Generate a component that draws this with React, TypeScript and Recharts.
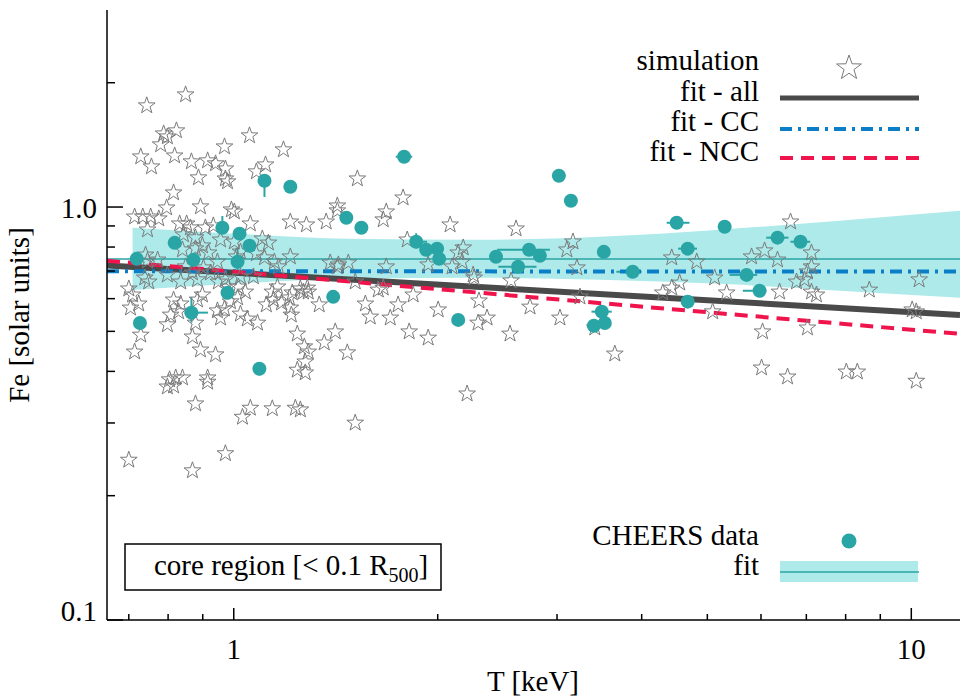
import React from 'react';
import { ComposedChart, XAxis, YAxis, Scatter, Line, Area, ErrorBar } from 'recharts';

const FONT = '"Liberation Serif", "Times New Roman", "DejaVu Serif", serif';
const TEAL = '#2aa5a5';
const BAND_FILL = '#aeeaea';
const STAR_STROKE = '#7a7a7a';

const X_TICKS = [0.7, 0.8, 0.9, 1, 2, 3, 4, 5, 6, 7, 8, 9, 10];
const X_LABELS: Record<number, string> = { 1: '1', 10: '10' };
const Y_TICKS = [0.1, 0.2, 0.3, 0.4, 0.5, 0.6, 0.7, 0.8, 0.9, 1, 2];
const Y_LABELS: Record<number, string> = { 0.1: '0.1', 1: '1.0' };

// simulated clusters (stars)
const SIM_T = [
  0.849, 0.744, 0.823, 0.788, 0.798, 0.780, 1.055, 0.969, 1.184, 0.729,
  0.818, 0.756, 0.866, 0.915, 0.940, 0.972, 0.887, 0.972, 0.979, 1.080,
  1.114, 0.815, 0.893, 0.796, 0.992, 1.002, 1.058, 1.212, 1.280, 1.369,
  1.422, 0.714, 0.734, 0.754, 0.775, 0.746, 0.832, 0.852, 0.933, 0.908,
  0.863, 0.843, 0.878, 0.956, 1.002, 1.102, 1.125, 0.840, 0.878, 0.899,
  0.918, 1.023, 1.009, 0.741, 0.746, 0.772, 1.080, 1.110, 0.946, 1.148,
  1.212, 1.164, 1.388, 1.427, 0.849, 0.869, 0.902, 0.924, 1.023, 1.069,
  0.884, 0.739, 0.749, 0.798, 0.835, 0.949, 0.972, 0.982, 1.016, 1.040,
  1.160, 1.140, 0.700, 0.709, 0.724, 0.704, 0.729, 0.714, 0.815, 0.835,
  0.829, 0.807, 0.798, 0.884, 0.899, 0.878, 0.869, 0.893, 0.940, 0.946,
  0.969, 0.989, 1.013, 0.956, 1.023, 1.047, 1.084, 1.117, 1.144, 1.176,
  1.208, 1.212, 1.216, 1.220, 1.254, 1.288, 1.337, 1.241, 1.271, 1.288,
  1.275, 1.241, 1.275, 1.360, 1.412, 1.471, 0.804, 0.821, 0.840, 0.798,
  0.815, 0.915, 0.915, 0.878, 1.030, 1.058, 1.140, 1.233, 0.700, 0.869,
  0.972, 1.511, 2.210, 1.254, 1.284, 1.267, 1.511, 1.564, 1.590, 1.634,
  1.662, 1.702, 1.748, 1.840, 2.003, 1.815, 1.936, 2.263, 2.301, 2.294,
  2.365, 2.557, 2.566, 2.737, 1.522, 1.778, 1.422, 1.679, 1.662, 2.086,
  2.610, 1.803, 2.181, 2.144, 2.173, 1.422, 1.476, 1.679, 1.936, 2.100,
  2.256, 3.167, 3.102, 3.210, 4.430, 4.823, 5.126, 4.551, 4.430, 5.339,
  5.811, 6.074, 6.347, 6.634, 7.123, 7.123, 7.027, 6.770, 6.956, 6.391,
  7.123, 7.245, 8.670, 10.27, 3.243, 3.030, 3.411, 3.651, 4.297, 5.091,
  6.032, 7.027, 10.03, 10.17, 6.012, 6.567, 8.019, 8.324, 10.17,
];
const SIM_FE = [
  1.871, 1.760, 1.531, 1.505, 1.480, 1.416, 1.489, 1.400, 1.377, 1.324,
  1.331, 1.252, 1.288, 1.295, 1.274, 1.238, 1.178, 1.171, 1.152, 1.218,
  1.266, 1.083, 1.002, 0.996, 0.985, 0.974, 0.911, 0.921, 0.906, 0.921,
  1.007, 0.947, 0.947, 0.947, 0.937, 0.881, 0.911, 0.911, 0.901, 0.891,
  0.891, 0.857, 0.843, 0.833, 0.824, 0.838, 0.819, 0.788, 0.793, 0.806,
  0.775, 0.779, 0.758, 0.766, 0.741, 0.745, 0.771, 0.754, 0.737, 0.737,
  0.758, 0.717, 0.733, 0.725, 0.717, 0.693, 0.713, 0.693, 0.678, 0.678,
  0.667, 0.674, 0.659, 0.685, 0.659, 0.659, 0.667, 0.641, 0.641, 0.623,
  0.641, 0.623, 0.634, 0.613, 0.583, 0.570, 0.490, 0.446, 0.596, 0.583,
  0.558, 0.548, 0.519, 0.596, 0.613, 0.524, 0.485, 0.451, 0.439, 0.561,
  0.567, 0.590, 0.603, 0.539, 0.551, 0.536, 0.524, 0.580, 0.596, 0.586,
  0.603, 0.570, 0.548, 0.620, 0.634, 0.623, 0.580, 0.493, 0.459, 0.446,
  0.422, 0.403, 0.397, 0.469, 0.499, 0.444, 0.382, 0.386, 0.386, 0.367,
  0.369, 0.386, 0.377, 0.334, 0.310, 0.326, 0.325, 0.326, 0.244, 0.230,
  0.253, 0.300, 0.353, 0.323, 0.637, 0.623, 0.659, 0.583, 0.542, 0.630,
  0.637, 0.539, 0.580, 0.613, 0.564, 0.499, 0.482, 0.674, 0.593, 0.524,
  0.539, 0.493, 0.663, 0.573, 1.171, 1.053, 0.980, 0.974, 0.932, 0.906,
  0.886, 0.833, 0.797, 0.775, 0.737, 0.717, 0.733, 0.717, 0.725, 0.717,
  0.685, 0.824, 0.788, 0.713, 0.754, 0.737, 0.674, 0.655, 0.637, 0.620,
  0.758, 0.784, 0.745, 0.921, 0.775, 0.717, 0.697, 0.659, 0.667, 0.623,
  0.623, 0.613, 0.630, 0.667, 0.606, 0.539, 0.510, 0.441, 0.620, 0.558,
  0.499, 0.510, 0.564, 0.558, 0.408, 0.388, 0.399, 0.399, 0.379,
];

// CHEERS observations (filled circles)
const CHEERS_T = [
  0.719, 0.818, 0.872, 0.962, 1.020, 1.055, 1.013, 1.110, 1.212, 0.979,
  0.866, 0.727, 1.091, 1.784, 1.466, 1.543, 1.859, 1.923, 1.996, 2.010,
  2.438, 2.728, 2.628, 2.830, 1.402, 2.144, 3.019, 3.145, 4.505, 5.303,
  3.517, 4.677, 3.880, 6.347, 6.862, 5.713, 5.971, 4.677, 3.493, 3.400,
  3.529,
];
const CHEERS_FE = [
  0.749, 0.819, 0.745, 0.891, 0.862, 0.806, 0.737, 1.158, 1.120, 0.620,
  0.555, 0.524, 0.406, 1.324, 0.942, 0.891, 0.824, 0.788, 0.793, 0.749,
  0.758, 0.788, 0.717, 0.762, 0.606, 0.533, 1.191, 1.036, 0.916, 0.896,
  0.779, 0.793, 0.697, 0.843, 0.824, 0.685, 0.627, 0.590, 0.558, 0.516,
  0.524,
];
const CHEERS_ERR_T: (number | [number, number])[] = [
  0, 0, 0, 0, 0, 0, 0, 0, 0, 0,
  [0.02, 0.05], 0, 0, 0.05, 0, 0, [0.03, 0.07], 0, 0, 0,
  0, [0.28, 0.2], 0.17, 0, 0, 0, 0, 0, [0.15, 0.2], 0.1,
  0, 0.15, [0.21, 0.12], 0.24, 0.23, [0.32, 0.21], [0.33, 0.14], 0, 0.12, 0,
  0,
];
const CHEERS_ERR_FE: (number | [number, number])[] = [
  0, 0, 0, [0.03, 0.06], 0, 0, [0.04, 0.06], [0.1, 0.04], 0, 0,
  [0.03, 0.05], 0, 0.015, 0, 0, 0, [0.03, 0.04], 0, 0, 0,
  0, 0, 0, 0, 0, 0, 0, 0, 0, 0,
  0, 0, 0, 0, 0, 0, 0, 0, 0, 0,
  0,
];

// fits (power laws, straight in log-log)
const FIT_T = [0.65, 11.8];
const FIT_ALL = [0.722, 0.548];
const FIT_CC = [0.699, 0.698];
const FIT_NCC = [0.741, 0.493];
const CHEERS_FIT = [0.748, 0.748];

// CHEERS fit confidence band
const BAND_T = [0.709, 1.0, 1.486, 2.31, 3.47, 5.21, 7.83, 11.8];
const BAND_LO = [0.63, 0.652, 0.67, 0.674, 0.667, 0.652, 0.627, 0.603];
const BAND_HI = [0.891, 0.862, 0.838, 0.833, 0.847, 0.881, 0.926, 0.979];

const simData = SIM_T.map((T, i) => ({ T, Fe: SIM_FE[i] }));
const cheersData = CHEERS_T.map((T, i) => ({
  T,
  Fe: CHEERS_FE[i],
  eT: CHEERS_ERR_T[i],
  eFe: CHEERS_ERR_FE[i],
}));
const fitLine = (vals: number[]) => FIT_T.map((T, i) => ({ T, Fe: vals[i] }));
const bandData = BAND_T.map((T, i) => ({ T, band: [BAND_LO[i], BAND_HI[i]] }));

function starPoints(cx: number, cy: number, R: number, r: number) {
  const pts: string[] = [];
  for (let i = 0; i < 10; i++) {
    const a = -Math.PI / 2 + (i * Math.PI) / 5;
    const rad = i % 2 === 0 ? R : r;
    pts.push(`${cx + rad * Math.cos(a)},${cy + rad * Math.sin(a)}`);
  }
  return pts.join(' ');
}

const StarShape = (p: any) => (
  <polygon points={starPoints(p.cx, p.cy, 8.8, 3.5)} fill="none" stroke={STAR_STROKE} strokeWidth={1} />
);
const DotShape = (p: any) => <circle cx={p.cx} cy={p.cy} r={7} fill={TEAL} />;

const BottomTick = ({ x, y, payload }: any) => {
  const label = X_LABELS[payload.value];
  return (
    <g>
      <line x1={x} x2={x} y1={y} y2={y - (label ? 12 : 6)} stroke="#000" strokeWidth={1.5} />
      {label && (
        <text x={x} y={y + 39} textAnchor="middle" fontSize={29} fontFamily={FONT} fill="#000">
          {label}
        </text>
      )}
    </g>
  );
};
const TopTick = ({ x, y, payload }: any) => {
  const major = X_LABELS[payload.value];
  return <line x1={x} x2={x} y1={y} y2={y + (major ? 12 : 6)} stroke="#000" strokeWidth={1.5} />;
};
const LeftTick = ({ x, y, payload }: any) => {
  const label = Y_LABELS[payload.value];
  return (
    <g>
      <line x1={x} x2={x + (label ? 16 : 8)} y1={y} y2={y} stroke="#000" strokeWidth={1.5} />
      {label && (
        <text x={x - 10} y={payload.value === 1 ? y + 11 : y + 1} textAnchor="end" fontSize={29} fontFamily={FONT} fill="#000">
          {label}
        </text>
      )}
    </g>
  );
};
const RightTick = ({ x, y, payload }: any) => {
  const major = Y_LABELS[payload.value];
  return <line x1={x} x2={x - (major ? 16 : 8)} y1={y} y2={y} stroke="#000" strokeWidth={1.5} />;
};

const AXIS_LINE = { stroke: '#000', strokeWidth: 1.5 };

export default function App() {
  return (
    <div style={{ position: 'absolute', left: 0, top: 0, width: 966, height: 697, background: '#fff' }}>
      <ComposedChart width={966} height={697} margin={{ top: 10, right: 6, bottom: 0, left: 0 }}>
        <XAxis
          xAxisId="b"
          dataKey="T"
          type="number"
          scale="log"
          domain={[0.65, 11.8]}
          allowDataOverflow
          ticks={X_TICKS}
          interval={0}
          height={77}
          tickSize={0}
          tickMargin={0}
          tickLine={false}
          tick={BottomTick}
          axisLine={AXIS_LINE}
        />
        <XAxis
          xAxisId="t"
          orientation="top"
          dataKey="T"
          type="number"
          scale="log"
          domain={[0.65, 11.8]}
          allowDataOverflow
          ticks={X_TICKS}
          interval={0}
          height={0}
          tickSize={0}
          tickMargin={0}
          tickLine={false}
          tick={TopTick}
          axisLine={AXIS_LINE}
        />
        <YAxis
          yAxisId="l"
          type="number"
          scale="log"
          domain={[0.1, 3]}
          allowDataOverflow
          ticks={Y_TICKS}
          interval={0}
          width={107}
          tickSize={0}
          tickMargin={0}
          tickLine={false}
          tick={LeftTick}
          axisLine={AXIS_LINE}
        />
        <YAxis
          yAxisId="r"
          orientation="right"
          type="number"
          scale="log"
          domain={[0.1, 3]}
          allowDataOverflow
          ticks={Y_TICKS}
          interval={0}
          width={0}
          tickSize={0}
          tickMargin={0}
          tickLine={false}
          tick={RightTick}
          axisLine={AXIS_LINE}
        />

        <Area
          xAxisId="b"
          yAxisId="l"
          data={bandData}
          dataKey="band"
          type="monotone"
          stroke="none"
          fill={BAND_FILL}
          fillOpacity={1}
          isAnimationActive={false}
        />
        <Line xAxisId="b" yAxisId="l" data={fitLine(CHEERS_FIT)} dataKey="Fe" stroke={TEAL} strokeWidth={1.5} dot={false} isAnimationActive={false} />
        <Scatter xAxisId="b" yAxisId="l" data={simData} dataKey="Fe" shape={StarShape} isAnimationActive={false} />
        <Scatter xAxisId="b" yAxisId="l" data={cheersData} dataKey="Fe" shape={DotShape} isAnimationActive={false}>
          <ErrorBar dataKey="eT" direction="x" width={0} stroke={TEAL} strokeWidth={2} />
          <ErrorBar dataKey="eFe" direction="y" width={0} stroke={TEAL} strokeWidth={2} />
        </Scatter>
        <Line xAxisId="b" yAxisId="l" data={fitLine(FIT_ALL)} dataKey="Fe" stroke="#4a4a4a" strokeWidth={6} dot={false} isAnimationActive={false} />
        <Line xAxisId="b" yAxisId="l" data={fitLine(FIT_CC)} dataKey="Fe" stroke="#0a7ec6" strokeWidth={4} strokeDasharray="12 6 3 6" dot={false} isAnimationActive={false} />
        <Line xAxisId="b" yAxisId="l" data={fitLine(FIT_NCC)} dataKey="Fe" stroke="#f0144c" strokeWidth={4} strokeDasharray="13 8" dot={false} isAnimationActive={false} />
      </ComposedChart>

      <svg width={966} height={697} style={{ position: 'absolute', left: 0, top: 0, pointerEvents: 'none' }}>
        <g fontFamily={FONT} fontSize={29} fill="#000">
          <text x={759} y={70} textAnchor="end">simulation</text>
          <text x={759} y={101} textAnchor="end">fit - all</text>
          <text x={759} y={131} textAnchor="end">fit - CC</text>
          <text x={759} y={161} textAnchor="end">fit - NCC</text>
          <text x={759} y={545} textAnchor="end">CHEERS data</text>
          <text x={759} y={575} textAnchor="end">fit</text>
          <text x={533} y={691} textAnchor="middle">T [keV]</text>
          <text transform="translate(29,315) rotate(-90)" textAnchor="middle">Fe [solar units]</text>
        </g>
        <polygon points={starPoints(849, 68, 13, 5.2)} fill="none" stroke={STAR_STROKE} strokeWidth={1} />
        <line x1={780} x2={919} y1={98} y2={98} stroke="#4a4a4a" strokeWidth={5} />
        <line x1={780} x2={919} y1={129} y2={129} stroke="#0a7ec6" strokeWidth={4} strokeDasharray="12 6 3 6" />
        <line x1={780} x2={919} y1={158} y2={158} stroke="#f0144c" strokeWidth={4} strokeDasharray="13 8" />
        <circle cx={849} cy={541} r={7.5} fill={TEAL} />
        <rect x={780} y={561} width={138} height={21} fill={BAND_FILL} />
        <line x1={780} x2={919} y1={572} y2={572} stroke={TEAL} strokeWidth={1.5} />

        <rect x={125} y={544} width={316} height={46} fill="#fff" stroke="#000" strokeWidth={1.5} />
        <text x={154} y={575} fontFamily={FONT} fontSize={29} fill="#000">
          core region [&lt; 0.1 R
          <tspan fontSize={20} dy={7}>500</tspan>
          <tspan dy={-7}>]</tspan>
        </text>
      </svg>
    </div>
  );
}
